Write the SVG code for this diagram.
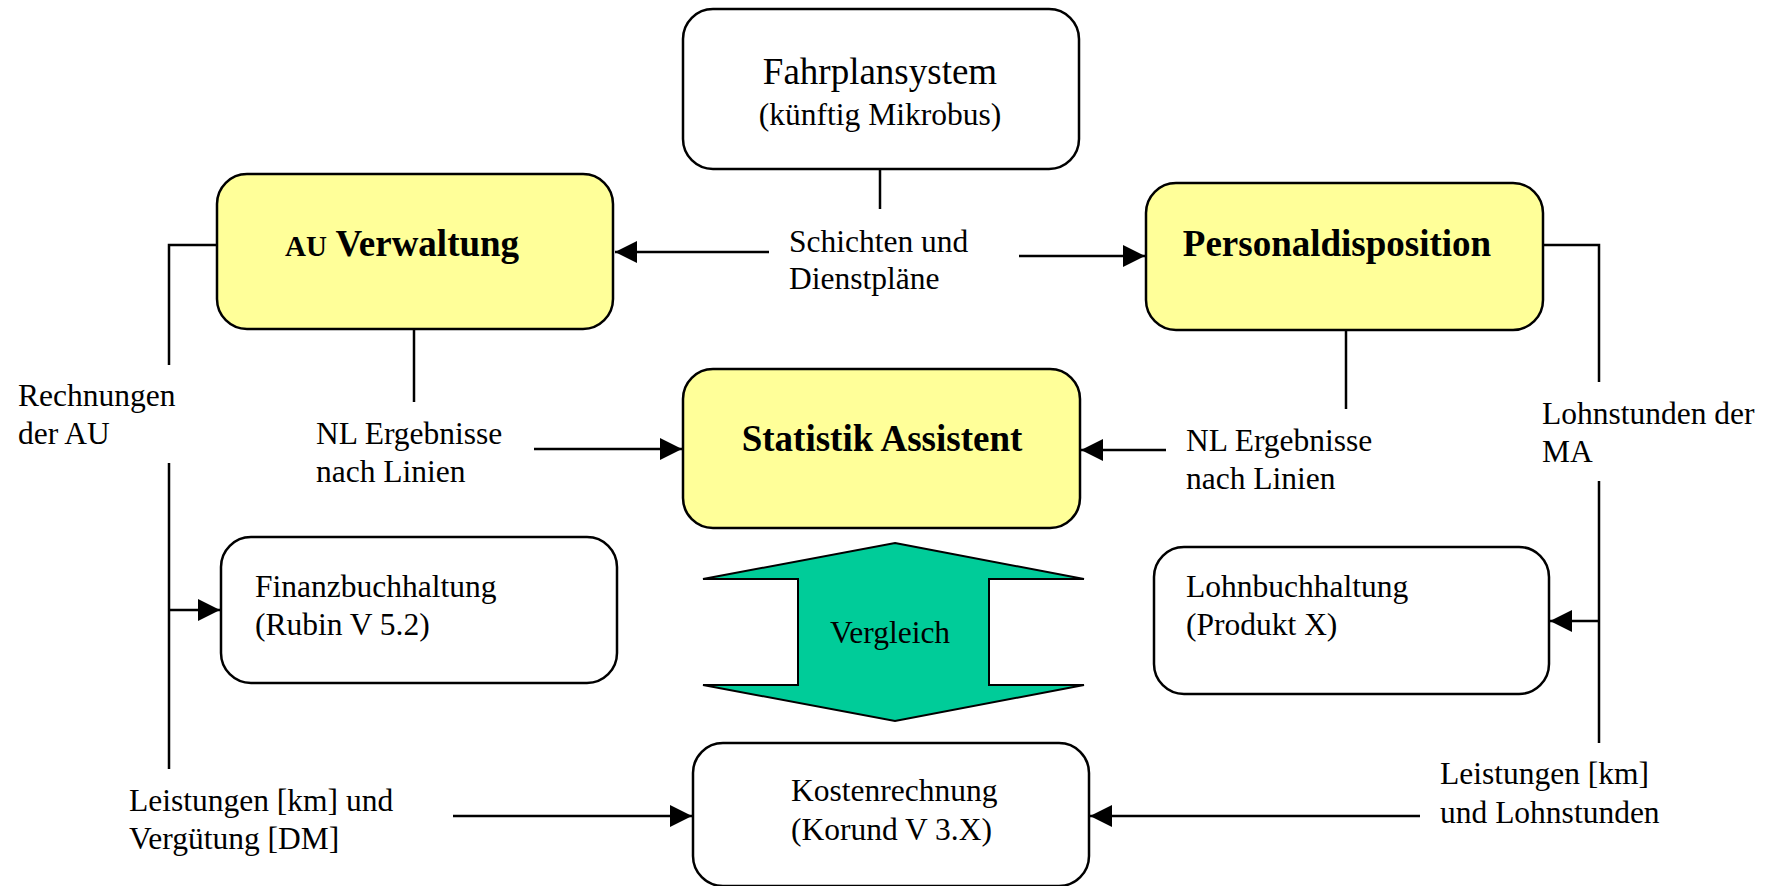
<svg xmlns="http://www.w3.org/2000/svg" width="1769" height="886" viewBox="0 0 1769 886">
<style>
.box{stroke:#000;stroke-width:2.5}
.w{fill:#fff}
.y{fill:#FFFF99}
.t{font-family:"Liberation Serif","Times New Roman",serif;font-size:31.5px;fill:#000}
.big{font-size:37px}
.b{font-family:"Liberation Serif","Times New Roman",serif;font-weight:bold;font-size:37px;fill:#000}
.c{fill:none;stroke:#000;stroke-width:2.5}
</style>
<defs>
<marker id="ah" markerUnits="userSpaceOnUse" markerWidth="22" markerHeight="22" viewBox="0 0 20 20" refX="20" refY="10" orient="auto">
<path d="M0,0 L20,10 L0,20 Z" fill="#000"/>
</marker>
</defs>
<rect width="1769" height="886" fill="#fff"/>

<g id="connectors">
<line class="c" x1="880" y1="169" x2="880" y2="209"/>
<line class="c" x1="769" y1="252" x2="615" y2="252" marker-end="url(#ah)"/>
<line class="c" x1="1019" y1="256" x2="1145" y2="256" marker-end="url(#ah)"/>
<polyline class="c" points="217,245 169,245 169,365"/>
<line class="c" x1="169" y1="463" x2="169" y2="769"/>
<line class="c" x1="169" y1="610" x2="220" y2="610" marker-end="url(#ah)"/>
<line class="c" x1="414" y1="329" x2="414" y2="402"/>
<line class="c" x1="534" y1="449" x2="682" y2="449" marker-end="url(#ah)"/>
<polyline class="c" points="1539,245 1599,245 1599,382"/>
<line class="c" x1="1599" y1="481" x2="1599" y2="743"/>
<line class="c" x1="1599" y1="621" x2="1550" y2="621" marker-end="url(#ah)"/>
<line class="c" x1="1346" y1="330" x2="1346" y2="409"/>
<line class="c" x1="1166" y1="450" x2="1081" y2="450" marker-end="url(#ah)"/>
<line class="c" x1="453" y1="816" x2="692" y2="816" marker-end="url(#ah)"/>
<line class="c" x1="1420" y1="816" x2="1090" y2="816" marker-end="url(#ah)"/>
</g>

<g id="fahrplansystem">
<rect class="box w" x="683" y="9" width="396" height="160" rx="30" ry="30"/>
<text class="t big" x="880" y="84" text-anchor="middle">Fahrplansystem</text>
<text class="t" x="880" y="125" text-anchor="middle">(künftig Mikrobus)</text>
</g>

<g id="au-verwaltung">
<rect class="box y" x="217" y="174" width="396" height="155" rx="30" ry="30"/>
<text class="b" x="285" y="256"><tspan font-size="29">AU</tspan> Verwaltung</text>
</g>

<g id="personaldisposition">
<rect class="box y" x="1146" y="183" width="397" height="147" rx="30" ry="30"/>
<text class="b" x="1337" y="256" text-anchor="middle">Personaldisposition</text>
</g>

<g id="statistik-assistent">
<rect class="box y" x="683" y="369" width="397" height="159" rx="30" ry="30"/>
<text class="b" x="882" y="451" text-anchor="middle">Statistik Assistent</text>
</g>

<g id="finanzbuchhaltung">
<rect class="box w" x="221" y="537" width="396" height="146" rx="30" ry="30"/>
<text class="t" x="255" y="597">Finanzbuchhaltung</text>
<text class="t" x="255" y="635">(Rubin V 5.2)</text>
</g>

<g id="lohnbuchhaltung">
<rect class="box w" x="1154" y="547" width="395" height="147" rx="30" ry="30"/>
<text class="t" x="1186" y="597">Lohnbuchhaltung</text>
<text class="t" x="1186" y="635">(Produkt X)</text>
</g>

<g id="vergleich">
<polygon points="895,543 1084,579 989,579 989,685 1084,685 895,721 703,685 798,685 798,579 703,579" fill="#00CC99" stroke="#000" stroke-width="2"/>
<text class="t" x="830" y="643">Vergleich</text>
</g>

<g id="kostenrechnung">
<rect class="box w" x="693" y="743" width="396" height="143" rx="30" ry="30"/>
<text class="t" x="791" y="801">Kostenrechnung</text>
<text class="t" x="791" y="840">(Korund V 3.X)</text>
</g>

<g id="labels">
<text class="t" x="789" y="252">Schichten und</text>
<text class="t" x="789" y="289">Dienstpläne</text>
<text class="t" x="18" y="406">Rechnungen</text>
<text class="t" x="18" y="444">der AU</text>
<text class="t" x="316" y="444">NL Ergebnisse</text>
<text class="t" x="316" y="482">nach Linien</text>
<text class="t" x="1186" y="451">NL Ergebnisse</text>
<text class="t" x="1186" y="489">nach Linien</text>
<text class="t" x="1542" y="424">Lohnstunden der</text>
<text class="t" x="1542" y="462">MA</text>
<text class="t" x="129" y="811">Leistungen [km] und</text>
<text class="t" x="129" y="849">Vergütung [DM]</text>
<text class="t" x="1440" y="784">Leistungen [km]</text>
<text class="t" x="1440" y="823">und Lohnstunden</text>
</g>
</svg>
